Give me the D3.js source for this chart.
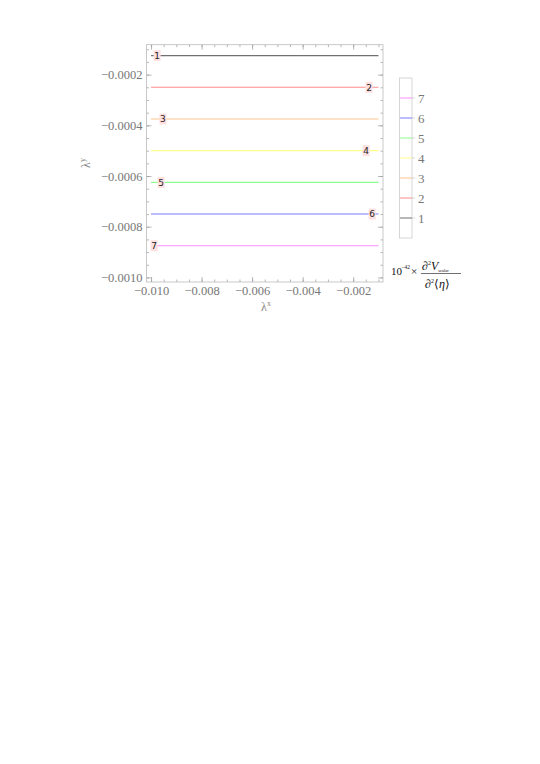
<html>
<head>
<title>d3</title>
</head>
<script src="https://d3js.org/d3.v7.min.js"></script>
<body style="margin:0;background:#fff">
<svg class="chart"></svg>
<script>

    var seriesNames = ["1", "2", "3", "4", "5", "6", "7"];
    var seriesY = [-0.000125, -0.00025, -0.000375, -0.0005, -0.000625, -0.00075, -0.000875];
    var lineX = [-0.010, -0.001];
    var labelX = [-0.00976, -0.00137, -0.00953, -0.00149, -0.0096, -0.00125, -0.00988];
    var colors = ["#707070", "#ff8c8c", "#ffc48c", "#ffff8c", "#8cff8c", "#7a7aff", "#ff8cff"];
    var xTicks = [-0.010, -0.008, -0.006, -0.004, -0.002];
    var yTicks = [-0.0010, -0.0008, -0.0006, -0.0004, -0.0002];

    var width = 540, height = 764;
    var svg = d3.select('svg')
        .attr('width', width)
        .attr('height', height);

    var x = d3.scaleLinear().domain([-0.01018, -0.00082]).range([146.5, 383]);
    var y = d3.scaleLinear().domain([-0.001018, -0.000082]).range([282, 44.7]);

    var fmtX = function (d) { return '\u2212' + Math.abs(d).toFixed(3); };
    var fmtY = function (d) { return '\u2212' + Math.abs(d).toFixed(4); };

    var xMinor = d3.range(-0.010, -0.00081, 0.0005);
    var yMinor = d3.range(-0.0010, -0.000081, 0.00005);

    var serif = 'Liberation Serif, Times New Roman, serif';

    function styleAxis(g) {
        g.select('.domain').remove();
        g.selectAll('line').attr('stroke', '#999').attr('stroke-width', 0.7);
        g.selectAll('text').attr('fill', '#777').attr('font-family', serif).attr('font-size', 12.5);
    }

    // minor ticks
    svg.append('g').attr('transform', 'translate(0,282)')
        .call(d3.axisBottom(x).tickValues(xMinor).tickSize(-2.5).tickFormat(''))
        .call(styleAxis);
    svg.append('g').attr('transform', 'translate(0,44.7)')
        .call(d3.axisTop(x).tickValues(xMinor).tickSize(-2.5).tickFormat(''))
        .call(styleAxis);
    svg.append('g').attr('transform', 'translate(146.5,0)')
        .call(d3.axisLeft(y).tickValues(yMinor).tickSize(-2.5).tickFormat(''))
        .call(styleAxis);
    svg.append('g').attr('transform', 'translate(383,0)')
        .call(d3.axisRight(y).tickValues(yMinor).tickSize(-2.5).tickFormat(''))
        .call(styleAxis);

    // major ticks
    svg.append('g').attr('transform', 'translate(0,282)')
        .call(d3.axisBottom(x).tickValues(xTicks).tickSize(-5).tickPadding(4).tickFormat(fmtX))
        .call(styleAxis);
    svg.append('g').attr('transform', 'translate(0,44.7)')
        .call(d3.axisTop(x).tickValues(xTicks).tickSize(-5).tickFormat(''))
        .call(styleAxis);
    svg.append('g').attr('transform', 'translate(146.5,0)')
        .call(d3.axisLeft(y).tickValues(yTicks).tickSize(-5).tickPadding(4).tickFormat(fmtY))
        .call(styleAxis);
    svg.append('g').attr('transform', 'translate(383,0)')
        .call(d3.axisRight(y).tickValues(yTicks).tickSize(-5).tickFormat(''))
        .call(styleAxis);

    // frame
    svg.append('rect')
        .attr('x', 146.5).attr('y', 44.7)
        .attr('width', 383 - 146.5).attr('height', 282 - 44.7)
        .attr('fill', 'none').attr('stroke', '#bbb').attr('stroke-width', 0.8);

    // lines
    var line = d3.line().x(function (d) { return x(d[0]); }).y(function (d) { return y(d[1]); });
    svg.selectAll('path.series')
        .data(seriesY)
        .enter()
        .append('path')
        .attr('class', 'series')
        .attr('d', function (d) { return line(lineX.map(function (v) { return [v, d]; })); })
        .attr('fill', 'none')
        .attr('stroke', function (d, i) { return colors[i]; })
        .attr('stroke-width', 1.1);

    // contour labels
    var lab = svg.selectAll('g.lab')
        .data(seriesY)
        .enter()
        .append('g')
        .attr('class', 'lab')
        .attr('transform', function (d, i) { return 'translate(' + x(labelX[i]) + ',' + y(d) + ')'; });
    lab.append('rect')
        .attr('x', -3.5).attr('y', -5.5).attr('width', 7).attr('height', 11)
        .attr('fill', '#ffe0e0');
    lab.append('text')
        .text(function (d, i) { return seriesNames[i]; })
        .attr('text-anchor', 'middle')
        .attr('y', 3.3)
        .attr('font-family', 'DejaVu Sans, sans-serif')
        .attr('font-size', 9)
        .attr('fill', '#222');

    // axis labels
    svg.append('text')
        .attr('transform', 'translate(90,163) rotate(-90)')
        .attr('text-anchor', 'middle')
        .attr('font-family', serif).attr('font-size', 12).attr('fill', '#888')
        .html('\u03bb<tspan dy="-5" font-size="8">y</tspan>');
    svg.append('text')
        .attr('x', 266).attr('y', 311)
        .attr('text-anchor', 'middle')
        .attr('font-family', serif).attr('font-size', 12).attr('fill', '#888')
        .html('\u03bb<tspan dy="-5" font-size="8">x</tspan>');

    // legend
    var legY = d3.scaleLinear().domain([1, 7]).range([218, 98]);
    svg.append('rect')
        .attr('x', 399.5).attr('y', 78).attr('width', 12.5).attr('height', 160)
        .attr('fill', 'none').attr('stroke', '#ccc').attr('stroke-width', 0.8);
    var leg = svg.selectAll('g.leg')
        .data(seriesNames)
        .enter()
        .append('g')
        .attr('class', 'leg')
        .attr('transform', function (d, i) { return 'translate(0,' + legY(i + 1) + ')'; });
    leg.append('line')
        .attr('x1', 412).attr('x2', 415)
        .attr('stroke', '#ccc').attr('stroke-width', 0.8);
    leg.append('line')
        .attr('x1', 400).attr('x2', 412)
        .attr('stroke', function (d, i) { return colors[i]; }).attr('stroke-width', 1);
    leg.append('text')
        .text(function (d) { return d; })
        .attr('x', 418).attr('y', 4.5)
        .attr('font-family', serif).attr('font-size', 13).attr('fill', '#777');

    // legend caption
    var cap = svg.append('g').attr('font-family', serif).attr('fill', '#111');
    cap.append('text').attr('x', 391).attr('y', 275).attr('font-size', 11).text('10');
    cap.append('text').attr('x', 401.5).attr('y', 269).attr('font-size', 5.5).text('\u221242');
    cap.append('text').attr('x', 411).attr('y', 275).attr('font-size', 11).text('\u00d7');
    cap.append('text').attr('x', 422).attr('y', 270).attr('font-size', 12)
        .html('<tspan font-style="italic">\u2202</tspan><tspan dy="-5" font-size="6">2</tspan><tspan dy="5" font-style="italic">V</tspan><tspan dy="1.5" font-size="4.5">scalar</tspan>');
    cap.append('line').attr('x1', 421).attr('x2', 461).attr('y1', 273.5).attr('y2', 273.5)
        .attr('stroke', '#111').attr('stroke-width', 0.6);
    cap.append('text').attr('x', 425).attr('y', 288).attr('font-size', 12)
        .html('<tspan font-style="italic">\u2202</tspan><tspan dy="-5" font-size="6">2</tspan><tspan dy="5">\u27e8</tspan><tspan font-style="italic">\u03b7</tspan>\u27e9');

</script>
</body>
</html>
